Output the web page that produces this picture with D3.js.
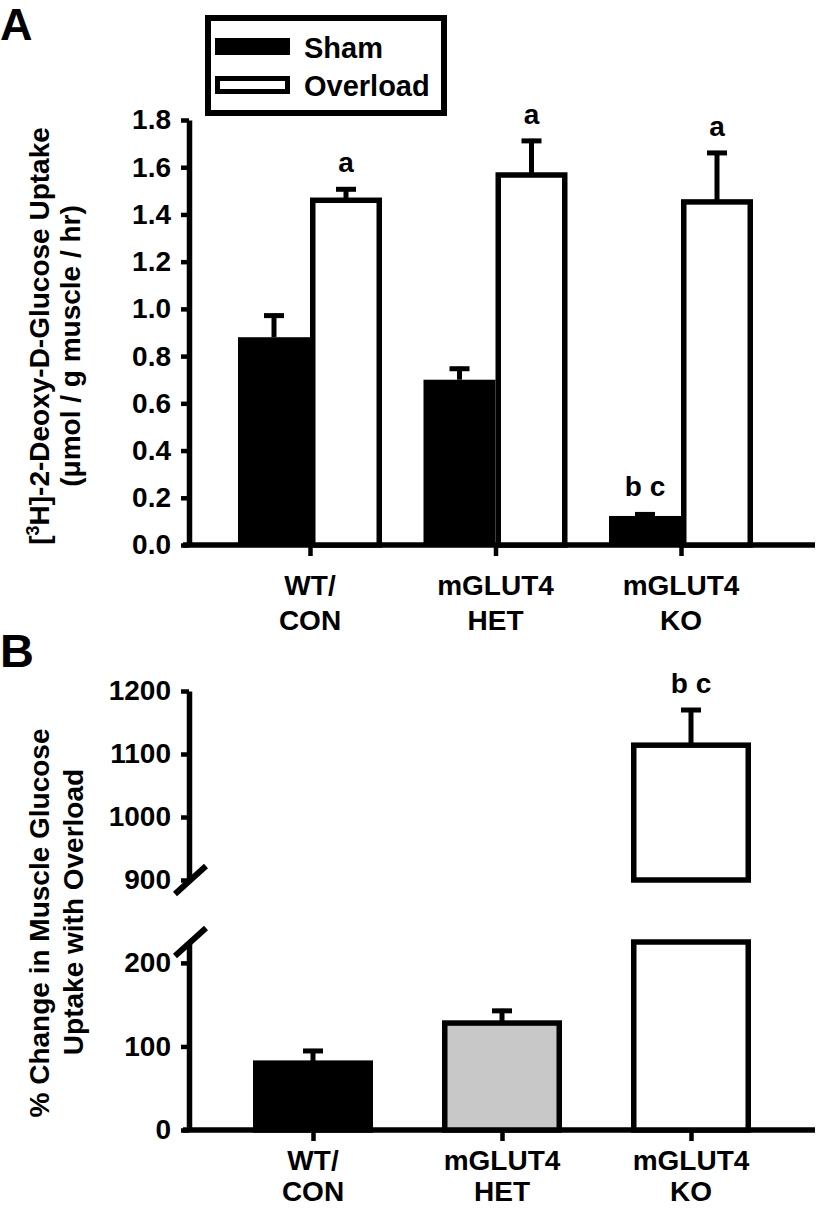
<html>
<head>
<meta charset="utf-8">
<script src="https://d3js.org/d3.v7.min.js"></script>
<style>
  body { margin: 0; padding: 0; background: #fff; }
  svg text { font-family: "Liberation Sans", Arial, Helvetica, sans-serif; font-weight: bold; fill: #000; }
</style>
</head>
<body>
<svg id="chart" width="819" height="1208"></svg>
<script>
// ---- data ----
var groups = ["WT/CON", "mGLUT4 HET", "mGLUT4 KO"];
var groupLines = [["WT/", "CON"], ["mGLUT4", "HET"], ["mGLUT4", "KO"]];

// panel A: 2-deoxyglucose uptake (umol / g muscle / hr)
var shamA = [0.88, 0.70, 0.123];
var shamErrA = [0.10, 0.055, 0.015];
var overloadA = [1.46, 1.567, 1.453];
var overloadErrA = [0.055, 0.153, 0.216];
var shamLettersA = ["", "", "b c"];
var overloadLettersA = ["a", "a", "a"];
var yTicksA = [0, 0.2, 0.4, 0.6, 0.8, 1.0, 1.2, 1.4, 1.6, 1.8];

// panel B: % change with overload
var pctB = [80, 128, 1114];
var pctErrB = [17, 17, 59];
var lettersB = ["", "", "b c"];
var yTicksBLow = [0, 100, 200];
var yTicksBHigh = [900, 1000, 1100, 1200];

var fillsB = ["#000", "#c8c8c8", "#fff"];

var svg = d3.select("#chart");
var axisX = 189;
var lw = 5.5;
var fs = "28px";

function styleAxis(g) {
  g.selectAll(".domain").attr("stroke", "#000").attr("stroke-width", lw);
  g.selectAll(".tick line").attr("stroke", "#000").attr("stroke-width", 4.5);
  g.selectAll(".tick text").style("font-size", fs).attr("fill", "#000");
}

function errBar(g, x, y0, y1) {
  g.append("line").attr("x1", x).attr("x2", x).attr("y1", y0).attr("y2", y1)
    .attr("stroke", "#000").attr("stroke-width", 5);
  g.append("line").attr("x1", x - 10).attr("x2", x + 10).attr("y1", y1 + 2).attr("y2", y1 + 2)
    .attr("stroke", "#000").attr("stroke-width", 5);
}

// ================= PANEL A =================
var gA = svg.append("g");
var yA = d3.scaleLinear().domain([0, 1.8]).range([545, 120]);
var xA = d3.scalePoint().domain(groups).range([310, 681]);
var bwA = 72;

gA.append("text").attr("x", 0).attr("y", 40).style("font-size", "45px").text("A");

// legend
var leg = gA.append("g");
leg.append("rect").attr("x", 208).attr("y", 18).attr("width", 236).attr("height", 95)
  .attr("fill", "#fff").attr("stroke", "#000").attr("stroke-width", 6);
leg.append("rect").attr("x", 215).attr("y", 38).attr("width", 75).attr("height", 17).attr("fill", "#000");
leg.append("rect").attr("x", 217.5).attr("y", 78.5).attr("width", 70).attr("height", 13)
  .attr("fill", "#fff").attr("stroke", "#000").attr("stroke-width", 5);
leg.append("text").attr("x", 304).attr("y", 58).style("font-size", "29px").text("Sham");
leg.append("text").attr("x", 304).attr("y", 96).style("font-size", "29px").text("Overload");

// y axis
gA.append("g").attr("transform", "translate(" + axisX + ",0)")
  .call(d3.axisLeft(yA).tickValues(yTicksA).tickFormat(d3.format(".1f"))
    .tickSize(8).tickSizeOuter(0).tickPadding(10))
  .call(styleAxis);

// x axis baseline + category ticks
gA.append("line").attr("x1", axisX - 6).attr("x2", 815).attr("y1", 545).attr("y2", 545)
  .attr("stroke", "#000").attr("stroke-width", lw);
gA.append("g").attr("transform", "translate(0,545)")
  .call(d3.axisBottom(xA).tickSize(11).tickFormat(""))
  .call(function (g) { g.select(".domain").remove(); })
  .call(styleAxis);

groups.forEach(function (grp, i) {
  var cx = xA(grp);
  // sham
  gA.append("rect").attr("x", cx - bwA).attr("y", yA(shamA[i]))
    .attr("width", bwA).attr("height", yA(0) - yA(shamA[i])).attr("fill", "#000");
  errBar(gA, cx - bwA / 2, yA(shamA[i]), yA(shamA[i] + shamErrA[i]));
  // overload
  gA.append("rect").attr("x", cx + lw / 2).attr("y", yA(overloadA[i]))
    .attr("width", bwA - lw).attr("height", yA(0) - yA(overloadA[i]))
    .attr("fill", "#fff").attr("stroke", "#000").attr("stroke-width", lw);
  errBar(gA, cx + bwA / 2, yA(overloadA[i]), yA(overloadA[i] + overloadErrA[i]));
  // letters
  gA.append("text").attr("x", cx + bwA / 2).attr("y", yA(overloadA[i] + overloadErrA[i]) - 15)
    .attr("text-anchor", "middle").style("font-size", fs).text(overloadLettersA[i]);
  gA.append("text").attr("x", cx - bwA / 2).attr("y", yA(shamA[i] + shamErrA[i]) - 16)
    .attr("text-anchor", "middle").style("font-size", fs).text(shamLettersA[i]);
  // category labels
  groupLines[i].forEach(function (t, j) {
    gA.append("text").attr("x", cx).attr("y", 595 + j * 35)
      .attr("text-anchor", "middle").style("font-size", fs).text(t);
  });
});

// y title A
var tA = gA.append("text").attr("transform", "translate(49,336) rotate(-90)")
  .attr("text-anchor", "middle").style("font-size", fs);
tA.append("tspan").text("[");
tA.append("tspan").attr("dy", -10).style("font-size", "18px").text("3");
tA.append("tspan").attr("dy", 10).text("H]-2-Deoxy-D-Glucose Uptake");
gA.append("text").attr("transform", "translate(80,346) rotate(-90)")
  .attr("text-anchor", "middle").style("font-size", fs).text("(\u03bcmol / g muscle / hr)");

// ================= PANEL B =================
var gB = svg.append("g");
var yLow = d3.scaleLinear().domain([0, 225]).range([1130, 942]);
var yHigh = d3.scaleLinear().domain([900, 1200]).range([880, 691]);
var xB = d3.scalePoint().domain(groups).range([313, 691]);
var bwB = 120;

gB.append("text").attr("x", 0).attr("y", 667).style("font-size", "47px").text("B");

gB.append("g").attr("transform", "translate(" + axisX + ",0)")
  .call(d3.axisLeft(yHigh).tickValues(yTicksBHigh).tickFormat(d3.format("d"))
    .tickSize(8).tickSizeOuter(0).tickPadding(10))
  .call(styleAxis);
gB.append("g").attr("transform", "translate(" + axisX + ",0)")
  .call(d3.axisLeft(yLow).tickValues(yTicksBLow).tickFormat(d3.format("d"))
    .tickSize(8).tickSizeOuter(0).tickPadding(10))
  .call(styleAxis);

// axis break slashes
[yHigh(900), yLow(225)].forEach(function (y) {
  gB.append("line").attr("x1", axisX - 14).attr("y1", y + 14).attr("x2", axisX + 17).attr("y2", y - 14)
    .attr("stroke", "#000").attr("stroke-width", 6);
});

gB.append("line").attr("x1", axisX - 6).attr("x2", 815).attr("y1", 1130).attr("y2", 1130)
  .attr("stroke", "#000").attr("stroke-width", lw);
gB.append("g").attr("transform", "translate(0,1130)")
  .call(d3.axisBottom(xB).tickSize(11).tickFormat(""))
  .call(function (g) { g.select(".domain").remove(); })
  .call(styleAxis);

groups.forEach(function (grp, i) {
  var cx = xB(grp);
  var v = pctB[i];
  if (v <= 225) {
    gB.append("rect").attr("x", cx - bwB / 2 + lw / 2).attr("y", yLow(v))
      .attr("width", bwB - lw).attr("height", yLow(0) - yLow(v))
      .attr("fill", fillsB[i]).attr("stroke", "#000").attr("stroke-width", lw);
    errBar(gB, cx, yLow(v), yLow(v + pctErrB[i]));
    gB.append("text").attr("x", cx).attr("y", yLow(v + pctErrB[i]) - 15)
      .attr("text-anchor", "middle").style("font-size", fs).text(lettersB[i]);
  } else {
    // lower segment up to the break
    gB.append("rect").attr("x", cx - bwB / 2 + lw / 2).attr("y", yLow(225))
      .attr("width", bwB - lw).attr("height", yLow(0) - yLow(225))
      .attr("fill", fillsB[i]).attr("stroke", "#000").attr("stroke-width", lw);
    // upper segment
    gB.append("rect").attr("x", cx - bwB / 2 + lw / 2).attr("y", yHigh(v))
      .attr("width", bwB - lw).attr("height", yHigh(900) - yHigh(v))
      .attr("fill", fillsB[i]).attr("stroke", "#000").attr("stroke-width", lw);
    errBar(gB, cx, yHigh(v), yHigh(v + pctErrB[i]));
    gB.append("text").attr("x", cx).attr("y", yHigh(v + pctErrB[i]) - 15)
      .attr("text-anchor", "middle").style("font-size", fs).text(lettersB[i]);
  }
  groupLines[i].forEach(function (t, j) {
    gB.append("text").attr("x", cx).attr("y", 1170 + j * 31)
      .attr("text-anchor", "middle").style("font-size", fs).text(t);
  });
});

// y title B
gB.append("text").attr("transform", "translate(49,923) rotate(-90)")
  .attr("text-anchor", "middle").style("font-size", fs).text("% Change in Muscle Glucose");
gB.append("text").attr("transform", "translate(83,912) rotate(-90)")
  .attr("text-anchor", "middle").style("font-size", fs).text("Uptake with Overload");
</script>
</body>
</html>
